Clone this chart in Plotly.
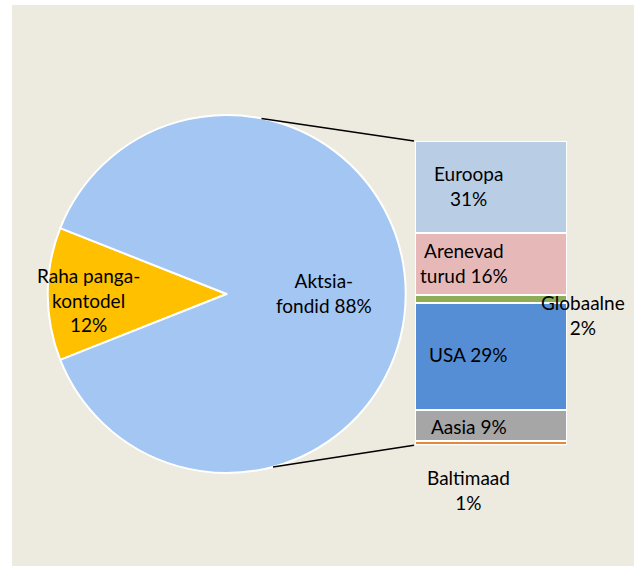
import math
import plotly.graph_objects as go

W, H = 634, 566

# ---------------- data ----------------
pie_labels = ["Raha panga-<br>kontodel", "Aktsia-<br>fondid"]
pie_values = [12, 88]
pie_sep = ["<br>", " "]

region_labels = ["Euroopa", "Arenevad<br>turud", "Globaalne", "USA", "Aasia", "Baltimaad"]
region_pct = [31, 16, 2, 29, 9, 1]                       # printed percentages
region_bar_height = [26.6, 17.9, 2.3, 30.9, 9.0, 1.3]    # drawn segment heights (share of portfolio)
region_sep = ["<br>", " ", "<br>", " ", " ", "<br>"]

# ---------------- styles / layout ----------------
pie_colors = ["#FFC000", "#A3C6F2"]
region_colors = ["#B9CDE5", "#E6B9B8", "#8FAC56", "#558ED5", "#A6A6A6", "#E3873C"]
BG = "#EDEAE0"
FONT = "Lato"
FS = 19

pie_cx, pie_cy, pie_r = 226.7, 294.0, 179.0      # pixels
bar_x0, bar_x1, bar_top, bar_bot = 415.0, 567.0, 141.0, 445.3
pie_label_px = [(88, 300), (323.5, 293)]
region_label_px = [(468, 186), (464, 262.5), (583, 315), (468, 354), (469, 426.5), (468, 490)]
conn_angles = [11.2, 165.0]   # degrees clockwise from 12 o'clock on the pie edge


def px(x, y):
    return x / W, 1 - y / H


fig = go.Figure()

fig.add_trace(go.Pie(
    labels=[l.replace("<br>", " ") for l in pie_labels],
    values=pie_values,
    sort=False,
    direction="clockwise",
    rotation=270 - pie_values[0] / sum(pie_values) * 360 / 2,
    marker=dict(colors=pie_colors, line=dict(color="white", width=2)),
    textinfo="none",
    hoverinfo="label+percent",
    domain=dict(x=[(pie_cx - pie_r) / W, (pie_cx + pie_r) / W],
                y=[1 - (pie_cy + pie_r) / H, 1 - (pie_cy - pie_r) / H]),
    showlegend=False,
))

# stacked bar: bottom to top
for lab, h, c in reversed(list(zip(region_labels, region_bar_height, region_colors))):
    fig.add_trace(go.Bar(
        x=[0], y=[h], name=lab.replace("<br>", " "),
        marker=dict(color=c, line=dict(color="white", width=2)),
        width=1, showlegend=False, hoverinfo="name",
    ))

ann = []
for lab, v, s, (x, y) in zip(pie_labels, pie_values, pie_sep, pie_label_px):
    xx, yy = px(x, y)
    ann.append(dict(x=xx, y=yy, xref="paper", yref="paper", text=f"{lab}{s}{v}%",
                    showarrow=False, xanchor="center", yanchor="middle", align="center",
                    font=dict(family=FONT, size=FS, color="#000000")))
for lab, v, s, (x, y) in zip(region_labels, region_pct, region_sep, region_label_px):
    xx, yy = px(x, y)
    ann.append(dict(x=xx, y=yy, xref="paper", yref="paper", text=f"{lab}{s}{v}%",
                    showarrow=False, xanchor="center", yanchor="middle", align="center",
                    font=dict(family=FONT, size=FS, color="#000000")))

shapes = [dict(type="rect", xref="paper", yref="paper", x0=12 / W, x1=1, y0=0, y1=1 - 5 / H,
               fillcolor=BG, line=dict(width=0), layer="below")]
for ang, by in zip(conn_angles, [bar_top, bar_bot]):
    sx = pie_cx + pie_r * math.sin(math.radians(ang))
    sy = pie_cy - pie_r * math.cos(math.radians(ang))
    x0, y0 = px(sx, sy)
    x1, y1 = px(bar_x0 - 1, by)
    shapes.append(dict(type="line", xref="paper", yref="paper", x0=x0, y0=y0, x1=x1, y1=y1,
                       line=dict(color="#000000", width=1.5), layer="above"))

fig.update_layout(
    width=W, height=H,
    margin=dict(l=0, r=0, t=0, b=0),
    paper_bgcolor="white", plot_bgcolor="rgba(0,0,0,0)",
    barmode="stack", bargap=0,
    xaxis=dict(domain=[bar_x0 / W, bar_x1 / W], range=[-0.5, 0.5], visible=False, fixedrange=True),
    yaxis=dict(domain=[1 - bar_bot / H, 1 - bar_top / H], range=[0, sum(region_bar_height)],
               visible=False, fixedrange=True),
    annotations=ann,
    shapes=shapes,
    font=dict(family=FONT),
)

fig.write_html(
    "out.html",
    config={"displayModeBar": False},
    post_script="document.body.style.margin='0';document.body.style.overflow='hidden';",
)
